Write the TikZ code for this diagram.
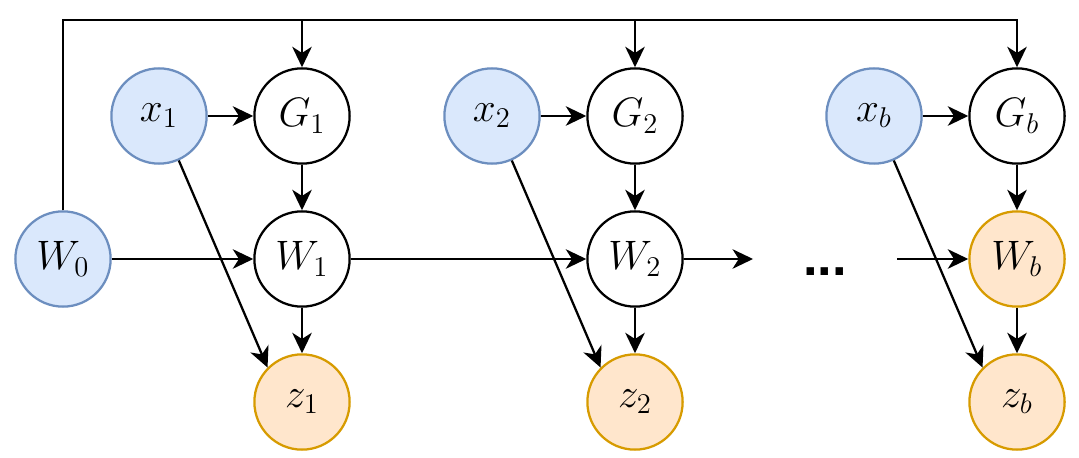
\documentclass[tikz,border=0pt]{standalone}
\usepackage{fontspec}
\newfontfamily\dotfont{Liberation Sans}
\usetikzlibrary{arrows.meta}
\definecolor{inblue}{HTML}{DAE8FC}
\definecolor{inbluedraw}{HTML}{6C8EBF}
\definecolor{outorange}{HTML}{FFE6CC}
\definecolor{outorangedraw}{HTML}{D79B00}

\begin{document}
\begin{tikzpicture}[x=0.42pt,y=-0.42pt,
  var/.style={circle,draw,line width=0.95pt,minimum size=40pt,inner sep=0pt,font=\fontsize{17}{20}\selectfont},
  given/.style={var,draw=inbluedraw,fill=inblue},
  emit/.style={var,draw=outorangedraw,fill=outorange},
  flow/.style={-{Stealth[length=8.6pt,width=8.2pt,inset=2.6pt]},line width=0.95pt}]
  \useasboundingbox (0,0) rectangle (1079,457);
  % weights along the chain
  \node[given] (W0) at (63,259) {$W_0$};
  \node[var] (W1) at (302,259) {$W_1$};
  \node[var] (W2) at (635,259) {$W_2$};
  \node[emit] (Wb) at (1017,259) {$W_b$};
  \node[anchor=base,font=\dotfont\bfseries\fontsize{22}{24}\selectfont] (dots) at (825,275) {...};
  % inputs, gradients, outputs of each step
  \foreach \i/\cx in {1/302,2/635,b/1017} {
    \node[given] (x\i) at (\cx-143,116) {$x_\i$};
    \node[var] (G\i) at (\cx,116) {$G_\i$};
    \node[emit] (z\i) at (\cx,402) {$z_\i$};
    \draw[flow] (x\i) -- (G\i);
    \draw[flow] (G\i) -- (W\i);
    \draw[flow] (W\i) -- (z\i);
    \draw[flow] (x\i.-66) -- (z\i.135);
  }
  % chain of updates
  \coordinate (c2) at (753,259);
  \coordinate (cb) at (897,259);
  \draw[flow] (W0) -- (W1);
  \draw[flow] (W1) -- (W2);
  \draw[flow] (W2) -- (c2);
  \draw[flow] (cb) -- (Wb);
  % W_0 fed to every G
  \coordinate (topb) at (1017,20);
  \draw[flow] (W0) |- (topb) -- (Gb);
  \foreach \i in {1,2} \draw[flow] (G\i |- topb) -- (G\i);
\end{tikzpicture}
\end{document}
